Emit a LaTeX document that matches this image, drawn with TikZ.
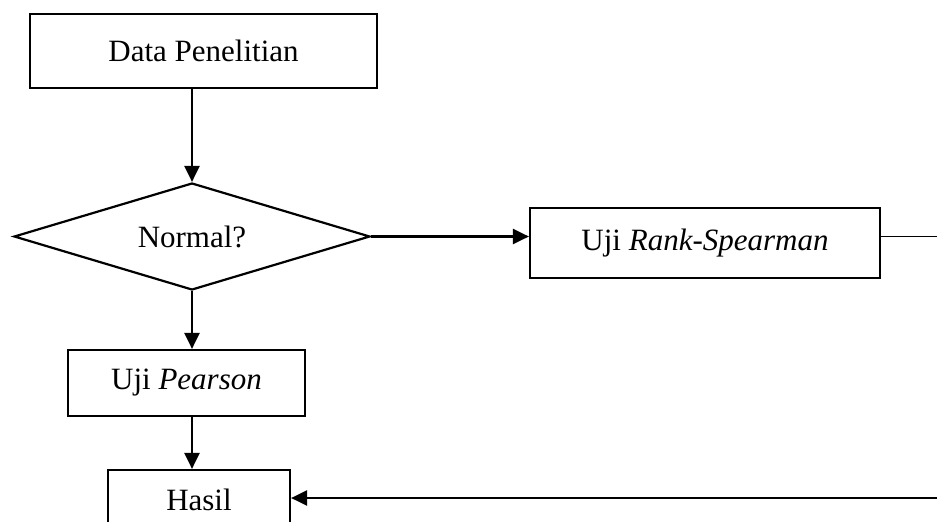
\documentclass[tikz,border=0pt]{standalone}
\usepackage{fontspec}
\setmainfont{Liberation Serif}
\usetikzlibrary{shapes.geometric,arrows.meta}
\begin{document}
\begin{tikzpicture}[x=1pt,y=-1pt,
  box/.style={draw,line width=2.2pt,rectangle,inner sep=0pt,font=\fontsize{31}{37}\selectfont},
  arr/.style={line width=2.4pt,-{Triangle[length=16pt,width=15pt]}},
]
\useasboundingbox (0,0) rectangle (937,522);
\clip (0,0) rectangle (937,522);
\node[box,minimum width=347pt,minimum height=74pt] (dp) at (203.5,51) {Data Penelitian};
\node[box,shape=diamond,aspect=3.33,minimum width=356pt,minimum height=107pt] (dia) at (192,236.5) {Normal?};
\node[box,minimum width=350pt,minimum height=70pt] (rs) at (705,243) {Uji \textit{Rank-Spearman}};
\node[box,minimum width=237pt,minimum height=66pt] (pe) at (186.5,383) {Uji \textit{Pearson}};
\node[box,minimum width=182pt,minimum height=60pt] (ha) at (199,500) {Hasil};
\coordinate (c1) at (960,236.5);
\coordinate (c2) at (960,498);
\draw[arr] (dp.south -| dia.north) -- (dia.north);
\draw[arr] (dia.south) -- (pe.north -| dia.south);
\draw[arr] (dia.east) -- (dia.east -| rs.west);
\draw[arr] (pe.south -| dia.south) -- (ha.north -| dia.south);
\draw[line width=1.4pt] (rs.east |- dia.east) -- (c1);
\draw[arr] (c1) -- (c2) -- (c2 -| ha.east);
\end{tikzpicture}
\end{document}
